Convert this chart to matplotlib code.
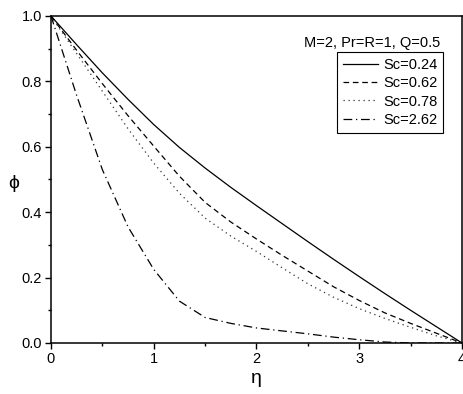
import matplotlib
matplotlib.use("Agg")
import matplotlib.pyplot as plt
from matplotlib.ticker import MultipleLocator, FormatStrFormatter

plt.rcParams['font.family'] = ['Liberation Sans', 'DejaVu Sans']

eta = [0, 0.25, 0.5, 0.75, 1.0, 1.25, 1.5, 1.75, 2.0, 2.25, 2.5, 2.75, 3.0, 3.25, 3.5, 3.75, 4.0]
phi_sc024 = [1.0, 0.912, 0.826, 0.745, 0.668, 0.598, 0.535, 0.476, 0.42, 0.365, 0.31, 0.256, 0.203, 0.151, 0.1, 0.05, 0.0]
phi_sc062 = [1.0, 0.895, 0.793, 0.695, 0.602, 0.51, 0.43, 0.37, 0.318, 0.268, 0.22, 0.172, 0.13, 0.092, 0.06, 0.03, 0.0]
phi_sc078 = [1.0, 0.885, 0.77, 0.655, 0.55, 0.458, 0.382, 0.327, 0.28, 0.23, 0.181, 0.14, 0.105, 0.075, 0.048, 0.022, 0.0]
phi_sc262 = [1.0, 0.757, 0.53, 0.355, 0.225, 0.128, 0.078, 0.06, 0.046, 0.037, 0.028, 0.018, 0.01, 0.003, 0.0, 0.0, 0.0]
labels = ["Sc=0.24", "Sc=0.62", "Sc=0.78", "Sc=2.62"]
annotation = "M=2, Pr=R=1, Q=0.5"

fig = plt.figure(figsize=(4.64, 3.94), dpi=100)
ax = fig.add_axes([51/464, 1-343/394, (462-51)/464, (343-16)/394])

lw = 0.9
ax.plot(eta, phi_sc024, color='black', lw=lw, linestyle='-', label=labels[0])
ax.plot(eta, phi_sc062, color='black', lw=lw, linestyle=(0, (4.5, 3)), label=labels[1])
ax.plot(eta, phi_sc078, color='#333333', lw=lw, linestyle=(0, (1, 3)), label=labels[2])
ax.plot(eta, phi_sc262, color='black', lw=lw, linestyle=(0, (7, 3, 1, 3)), label=labels[3])

ax.set_xlim(0, 4)
ax.set_ylim(0, 1.0)
ax.xaxis.set_major_locator(MultipleLocator(1))
ax.xaxis.set_minor_locator(MultipleLocator(0.5))
ax.yaxis.set_major_locator(MultipleLocator(0.2))
ax.yaxis.set_minor_locator(MultipleLocator(0.1))
ax.yaxis.set_major_formatter(FormatStrFormatter('%.1f'))
ax.tick_params(which='major', direction='out', length=4.5, width=1.0, labelsize=10.5, pad=2)
ax.tick_params(which='minor', direction='out', length=2.5, width=1.0)
ax.tick_params(top=False, right=False)
for s in ax.spines.values():
    s.set_linewidth(1.1)

ax.set_xlabel('η', fontsize=14, labelpad=3)
ax.set_ylabel('ϕ', fontsize=14, rotation=0, va='center', ha='center')
ax.yaxis.set_label_coords(-0.092, (343-183)/327)

fig.text(372/464, 1-43/394, annotation, fontsize=10.5, ha='center', va='center')

leg = fig.legend(loc='upper right', bbox_to_anchor=(443/464, 1-52/394),
                 fontsize=10.5, frameon=True, fancybox=False, framealpha=1,
                 edgecolor='black', handlelength=2.4, handletextpad=0.35,
                 borderpad=0.4, labelspacing=0.3, borderaxespad=0)
leg.get_frame().set_linewidth(0.8)

fig.savefig('out.png', dpi=100)
